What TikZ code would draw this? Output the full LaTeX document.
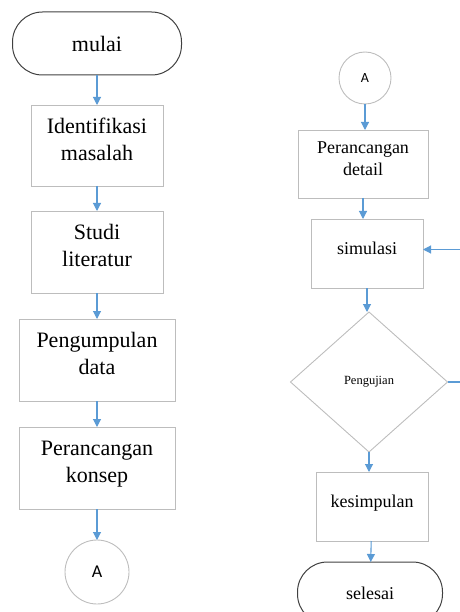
\documentclass[tikz,border=0pt]{standalone}
\usepackage{fontspec}
\setmainfont{Liberation Serif}
\newfontfamily\connfont{Carlito}
\usetikzlibrary{positioning,arrows.meta,shapes.geometric}
\definecolor{flowblue}{HTML}{5B9BD5}
\definecolor{boxgray}{HTML}{BDBDBD}
\definecolor{termgray}{HTML}{404040}
\tikzset{
  >={Triangle[length=8pt,width=8pt]},
  flow/.style={->,color=flowblue,line width=1.1pt},
}

\begin{document}
\begin{tikzpicture}[
x=1pt,y=-1pt,
node distance=26pt,
every node/.style={outer sep=0pt},
box/.style={draw=boxgray,line width=0.9pt,align=center,inner sep=2pt},
bigbox/.style={box,text depth=13pt,font=\fontsize{22}{27}\selectfont},
smallbox/.style={box,text depth=10pt,font=\fontsize{18}{22}\selectfont},
term/.style={draw=termgray,line width=1pt,rounded corners=30pt,align=center},
conn/.style={circle,draw=boxgray,line width=0.9pt,inner sep=0pt}
]
\useasboundingbox (0,0) rectangle (459,612);

% kolom kiri
\node[term,minimum width=169pt,minimum height=63pt,font=\fontsize{22}{27}\selectfont] (mulai) at (97,43.5) {mulai};
\node[bigbox,minimum width=132pt,minimum height=81pt,below=30pt of mulai] (ident) {Identifikasi\\masalah};
\node[bigbox,minimum width=132pt,minimum height=82pt,below=25pt of ident] (studi) {Studi\\literatur};
\node[bigbox,minimum width=156pt,minimum height=82pt,below=of studi] (kumpul) {Pengumpulan\\data};
\node[bigbox,minimum width=156pt,minimum height=82pt,below=of kumpul] (konsep) {Perancangan\\konsep};
\node[conn,minimum size=64pt,font=\connfont\fontsize{18}{20}\selectfont,below=31pt of konsep] (a1) {A};

% kolom kanan
\node[conn,minimum size=52pt,font=\connfont\fontsize{14}{16}\selectfont] (a2) at (365,78) {A};
\node[smallbox,minimum width=130pt,minimum height=68pt,below=26pt of a2,xshift=-2pt] (detail) {Perancangan\\detail};
\node[smallbox,minimum width=112pt,minimum height=69pt,below=21pt of detail,xshift=4pt] (sim) {simulasi};
\node[diamond,draw=boxgray,line width=0.9pt,minimum width=157pt,minimum height=140pt,inner sep=0pt,
  font=\fontsize{12.5}{15}\selectfont,below=24pt of sim,xshift=2pt] (uji) {Pengujian};
\node[smallbox,minimum width=112pt,minimum height=69pt,below=20pt of uji,xshift=3pt] (simpul) {kesimpulan};
\node[term,minimum width=145pt,minimum height=62pt,font=\fontsize{18}{22}\selectfont,below=21pt of simpul,xshift=-2pt] (selesai) {selesai};
\coordinate (balik) at (466,382);

\path[flow]
(mulai) edge (ident)
(ident) edge (studi)
(studi) edge (kumpul)
(kumpul) edge (konsep)
(konsep) edge (a1)
(a2) edge (a2 |- detail.north)
(detail.south) edge (detail.south |- sim.north)
(sim.south) edge (sim.south |- uji.north)
(uji.south) edge (uji.south |- simpul.north)
(simpul) edge (selesai);
\draw[flow] (uji.east) -- (balik) |- ([yshift=4pt]sim.east);
\end{tikzpicture}
\end{document}
